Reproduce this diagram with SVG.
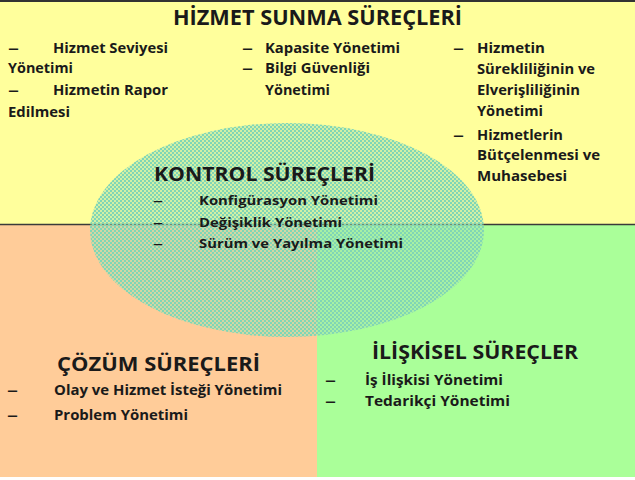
<svg xmlns="http://www.w3.org/2000/svg" width="635" height="480" viewBox="0 0 635 480">
  <style>
    text { font-family: "Open Sans", "Liberation Sans", sans-serif; font-weight: bold; fill: #1a1a1a; }
    .title { font-size: 21px; }
    .head { font-size: 20px; }
    .body { font-size: 14px; }
    .small { font-size: 12.5px; }
  </style>
  <defs>
    <pattern id="dots" width="4" height="4" patternUnits="userSpaceOnUse">
      <rect x="0" y="0" width="4" height="4" fill="#a6e2b0" fill-opacity="0.5"/>
      <rect x="0" y="0" width="2" height="2" fill="#80d6b6"/>
      <rect x="2" y="2" width="2" height="2" fill="#80d6b6"/>
    </pattern>
  </defs>

  <rect x="0" y="0" width="635" height="480" fill="#ffffff"/>

  <g id="hizmet-sunma">
    <rect x="0" y="0" width="635" height="225" fill="#ffff9c"/>
  </g>
  <g id="cozum">
    <rect x="0" y="225" width="317" height="252" fill="#ffcc99"/>
  </g>
  <g id="iliskisel">
    <rect x="317" y="225" width="318" height="252" fill="#aaff99"/>
  </g>

  <g id="connectors">
    <rect x="0" y="0" width="635" height="2" fill="#333333"/>
    <line x1="0" y1="224.5" x2="635" y2="224.5" stroke="#3a3a3a" stroke-width="1.6"/>
  </g>

  <g id="kontrol">
    <ellipse cx="287" cy="230" rx="197" ry="107" fill="url(#dots)"/>
    <text class="head" x="154" y="181" font-size="19" textLength="221" lengthAdjust="spacingAndGlyphs">KONTROL SÜREÇLERİ</text>
    <text class="small" x="153" y="205" textLength="10" lengthAdjust="spacingAndGlyphs">–</text>
    <text class="small" x="199" y="205" textLength="179" lengthAdjust="spacingAndGlyphs">Konfigürasyon Yönetimi</text>
    <text class="small" x="153" y="227" textLength="10" lengthAdjust="spacingAndGlyphs">–</text>
    <text class="small" x="199" y="227" textLength="143" lengthAdjust="spacingAndGlyphs">Değişiklik Yönetimi</text>
    <text class="small" x="153" y="248" textLength="10" lengthAdjust="spacingAndGlyphs">–</text>
    <text class="small" x="199" y="248" textLength="204" lengthAdjust="spacingAndGlyphs">Sürüm ve Yayılma Yönetimi</text>
  </g>

  <g id="hizmet-sunma-text">
    <text class="title" x="173" y="25" textLength="289" lengthAdjust="spacingAndGlyphs">HİZMET SUNMA SÜREÇLERİ</text>
    <text class="body" x="8" y="53" textLength="11" lengthAdjust="spacingAndGlyphs">–</text>
    <text class="body" x="53" y="53" textLength="115" lengthAdjust="spacingAndGlyphs">Hizmet Seviyesi</text>
    <text class="body" x="8" y="73" textLength="65" lengthAdjust="spacingAndGlyphs">Yönetimi</text>
    <text class="body" x="8" y="95" textLength="11" lengthAdjust="spacingAndGlyphs">–</text>
    <text class="body" x="53" y="95" textLength="115" lengthAdjust="spacingAndGlyphs">Hizmetin Rapor</text>
    <text class="body" x="8" y="117" textLength="62" lengthAdjust="spacingAndGlyphs">Edilmesi</text>

    <text class="body" x="242" y="53" textLength="11" lengthAdjust="spacingAndGlyphs">–</text>
    <text class="body" x="265" y="53" textLength="135" lengthAdjust="spacingAndGlyphs">Kapasite Yönetimi</text>
    <text class="body" x="242" y="73" textLength="11" lengthAdjust="spacingAndGlyphs">–</text>
    <text class="body" x="265" y="73" textLength="105" lengthAdjust="spacingAndGlyphs">Bilgi Güvenliği</text>
    <text class="body" x="265" y="95" textLength="65" lengthAdjust="spacingAndGlyphs">Yönetimi</text>

    <text class="body" x="453" y="53" textLength="11" lengthAdjust="spacingAndGlyphs">–</text>
    <text class="body" x="477" y="53" textLength="68" lengthAdjust="spacingAndGlyphs">Hizmetin</text>
    <text class="body" x="477" y="74" textLength="118" lengthAdjust="spacingAndGlyphs">Sürekliliğinin ve</text>
    <text class="body" x="477" y="95" textLength="103" lengthAdjust="spacingAndGlyphs">Elverişliliğinin</text>
    <text class="body" x="477" y="116" textLength="66" lengthAdjust="spacingAndGlyphs">Yönetimi</text>
    <text class="body" x="453" y="140" textLength="11" lengthAdjust="spacingAndGlyphs">–</text>
    <text class="body" x="477" y="140" textLength="86" lengthAdjust="spacingAndGlyphs">Hizmetlerin</text>
    <text class="body" x="477" y="160" textLength="123" lengthAdjust="spacingAndGlyphs">Bütçelenmesi ve</text>
    <text class="body" x="477" y="181" textLength="90" lengthAdjust="spacingAndGlyphs">Muhasebesi</text>
  </g>

  <g id="cozum-text">
    <text class="head" x="57" y="371" textLength="203" lengthAdjust="spacingAndGlyphs">ÇÖZÜM SÜREÇLERİ</text>
    <text class="body" x="7" y="395" textLength="11" lengthAdjust="spacingAndGlyphs">–</text>
    <text class="body" x="54" y="395" textLength="228" lengthAdjust="spacingAndGlyphs">Olay ve Hizmet İsteği Yönetimi</text>
    <text class="body" x="7" y="420" textLength="11" lengthAdjust="spacingAndGlyphs">–</text>
    <text class="body" x="54" y="420" textLength="134" lengthAdjust="spacingAndGlyphs">Problem Yönetimi</text>
  </g>

  <g id="iliskisel-text">
    <text class="head" x="372" y="359" textLength="206" lengthAdjust="spacingAndGlyphs">İLİŞKİSEL SÜREÇLER</text>
    <text class="body" x="325" y="385" textLength="11" lengthAdjust="spacingAndGlyphs">–</text>
    <text class="body" x="365" y="385" textLength="138" lengthAdjust="spacingAndGlyphs">İş İlişkisi Yönetimi</text>
    <text class="body" x="325" y="406" textLength="11" lengthAdjust="spacingAndGlyphs">–</text>
    <text class="body" x="365" y="406" textLength="145" lengthAdjust="spacingAndGlyphs">Tedarikçi Yönetimi</text>
  </g>
</svg>
